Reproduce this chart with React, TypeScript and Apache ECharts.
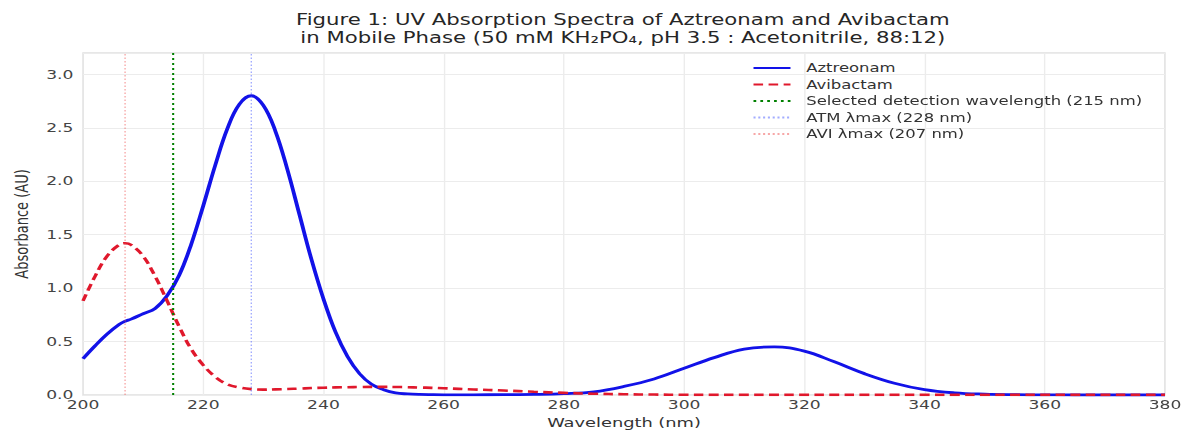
import { useEffect, useRef } from "react";
import * as echarts from "echarts";

// ---- data ----
const wavelengths = [
  200, 202, 204, 206, 207, 208, 210, 212, 214, 216, 218, 220, 222, 224, 226, 228, 230,
  232, 234, 236, 238, 240, 242, 244, 246, 248, 250, 252, 254, 256, 258, 260,
  265, 270, 275, 280, 285, 290, 295, 300, 305, 310, 315, 320, 325, 330, 335, 340,
  345, 350, 355, 360, 365, 370, 375, 380,
];
const aztreonam = [
  0.34, 0.46, 0.57, 0.66, 0.69, 0.71, 0.76, 0.81, 0.93, 1.12, 1.41, 1.77, 2.15, 2.49, 2.72, 2.8, 2.71,
  2.47, 2.11, 1.69, 1.27, 0.9, 0.59, 0.36, 0.2, 0.1, 0.05, 0.02, 0.01, 0.005, 0.003, 0.002,
  0.002, 0.003, 0.005, 0.012, 0.03, 0.08, 0.15, 0.25, 0.35, 0.43, 0.45, 0.41, 0.31, 0.2, 0.11, 0.05,
  0.02, 0.008, 0.003, 0.001, 0, 0, 0, 0,
];
const avibactam = [
  0.88, 1.11, 1.3, 1.405, 1.42, 1.405, 1.3, 1.11, 0.88, 0.64, 0.43, 0.28, 0.17, 0.1, 0.07, 0.055, 0.05,
  0.053, 0.056, 0.06, 0.065, 0.068, 0.071, 0.073, 0.075, 0.076, 0.076, 0.075, 0.073, 0.07, 0.067, 0.063,
  0.052, 0.042, 0.03, 0.02, 0.012, 0.007, 0.004, 0.002, 0.001, 0.001, 0.001, 0.001, 0.001, 0.001, 0.001, 0.001,
  0.001, 0.001, 0.001, 0.001, 0.001, 0.001, 0.001, 0.001,
];
const detectionWavelength = 215;
const atmLambdaMax = 228;
const aviLambdaMax = 207;
const xTicks = { min: 200, max: 380, interval: 20 };
const yTicks = { min: 0, max: 3.2, interval: 0.5 };

const seriesNames = [
  "Aztreonam",
  "Avibactam",
  "Selected detection wavelength (215 nm)",
  "ATM λmax (228 nm)",
  "AVI λmax (207 nm)",
];

const titleText =
  "Figure 1: UV Absorption Spectra of Aztreonam and Avibactam\nin Mobile Phase (50 mM KH₂PO₄, pH 3.5 : Acetonitrile, 88:12)";

// ---- layout (the reference is horizontally stretched) ----
const S = 1.37;
const W = 1185 / S;
const FONT = "DejaVu Sans";

const pair = (xs: number[], ys: number[]) => xs.map((x, i) => [x, ys[i]]);
const vline = (x: number) => [
  [x, yTicks.min],
  [x, yTicks.max],
];

export default function App() {
  const ref = useRef<HTMLDivElement>(null);
  useEffect(() => {
    if (!ref.current) return;
    const chart = echarts.init(ref.current, null, { renderer: "svg", width: W, height: 432 });
    chart.setOption({
      animation: false,
      backgroundColor: "#ffffff",
      title: {
        text: titleText,
        left: 616 / S,
        textAlign: "center",
        top: 6,
        textStyle: {
          fontFamily: FONT,
          fontSize: 15.5,
          fontWeight: "normal",
          color: "#262626",
          lineHeight: 18,
        },
      },
      legend: {
        orient: "vertical",
        left: 544,
        top: 57,
        itemWidth: 27,
        itemHeight: 14,
        itemGap: 4.5,
        data: seriesNames,
        itemStyle: { opacity: 0 },
        textStyle: { fontFamily: FONT, fontSize: 12, color: "#333", padding: [0, 0, 0, 6.5] },
      },
      grid: {
        left: 83 / S,
        right: W - 1165 / S,
        top: 53,
        bottom: 37,
        outerBoundsMode: "none",
        containLabel: false,
        show: true,
        borderColor: "#cfcfcf",
        borderWidth: 1,
        backgroundColor: "#ffffff",
      },
      xAxis: {
        type: "value",
        min: xTicks.min,
        max: xTicks.max,
        interval: xTicks.interval,
        name: "Wavelength (nm)",
        nameLocation: "middle",
        nameGap: 21,
        nameTextStyle: { fontFamily: FONT, fontSize: 13, color: "#333" },
        axisLine: { show: false },
        axisTick: { show: false },
        axisLabel: { fontFamily: FONT, fontSize: 12.5, color: "#444", margin: 3.5 },
        splitLine: { show: true, lineStyle: { color: "#ececec", width: 1 } },
      },
      yAxis: {
        type: "value",
        min: yTicks.min,
        max: yTicks.max,
        interval: yTicks.interval,
        name: "Absorbance (AU)",
        nameLocation: "middle",
        nameGap: 38,
        nameTextStyle: { fontFamily: FONT, fontSize: 13, color: "#333" },
        axisLine: { show: false },
        axisTick: { show: false },
        axisLabel: {
          fontFamily: FONT,
          fontSize: 12.5,
          color: "#444",
          margin: 7,
          showMaxLabel: false,
          formatter: (v: number) => v.toFixed(1),
        },
        splitLine: { show: true, lineStyle: { color: "#ececec", width: 1 } },
      },
      series: [
        {
          name: seriesNames[0],
          type: "line",
          data: pair(wavelengths, aztreonam),
          smooth: 0.4,
          symbol: "none",
          lineStyle: { color: "#1212e8", width: 2.8 },
          itemStyle: { color: "#1212e8" },
          z: 3,
        },
        {
          name: seriesNames[1],
          type: "line",
          data: pair(wavelengths, avibactam),
          smooth: 0.4,
          symbol: "none",
          lineStyle: { color: "#e0182c", width: 2.6, type: [7, 4] },
          itemStyle: { color: "#e0182c" },
          z: 3,
        },
        {
          name: seriesNames[2],
          type: "line",
          data: vline(detectionWavelength),
          symbol: "none",
          lineStyle: { color: "#008000", width: 1.5, type: [2, 3] },
          itemStyle: { color: "#008000" },
          z: 4,
        },
        {
          name: seriesNames[3],
          type: "line",
          data: vline(atmLambdaMax),
          symbol: "none",
          lineStyle: { color: "rgba(70,90,255,0.5)", width: 1, type: [1.5, 2] },
          itemStyle: { color: "rgba(70,90,255,0.5)" },
          z: 4,
        },
        {
          name: seriesNames[4],
          type: "line",
          data: vline(aviLambdaMax),
          symbol: "none",
          lineStyle: { color: "rgba(240,80,80,0.5)", width: 1, type: [1.5, 2] },
          itemStyle: { color: "rgba(240,80,80,0.5)" },
          z: 4,
        },
      ],
    });
    return () => chart.dispose();
  }, []);
  return (
    <div
      style={{
        position: "absolute",
        left: 0,
        top: 0,
        width: 1185,
        height: 432,
        overflow: "hidden",
        background: "#ffffff",
      }}
    >
      <div
        ref={ref}
        style={{ width: W, height: 432, transform: `scaleX(${S})`, transformOrigin: "0 0" }}
      />
    </div>
  );
}
